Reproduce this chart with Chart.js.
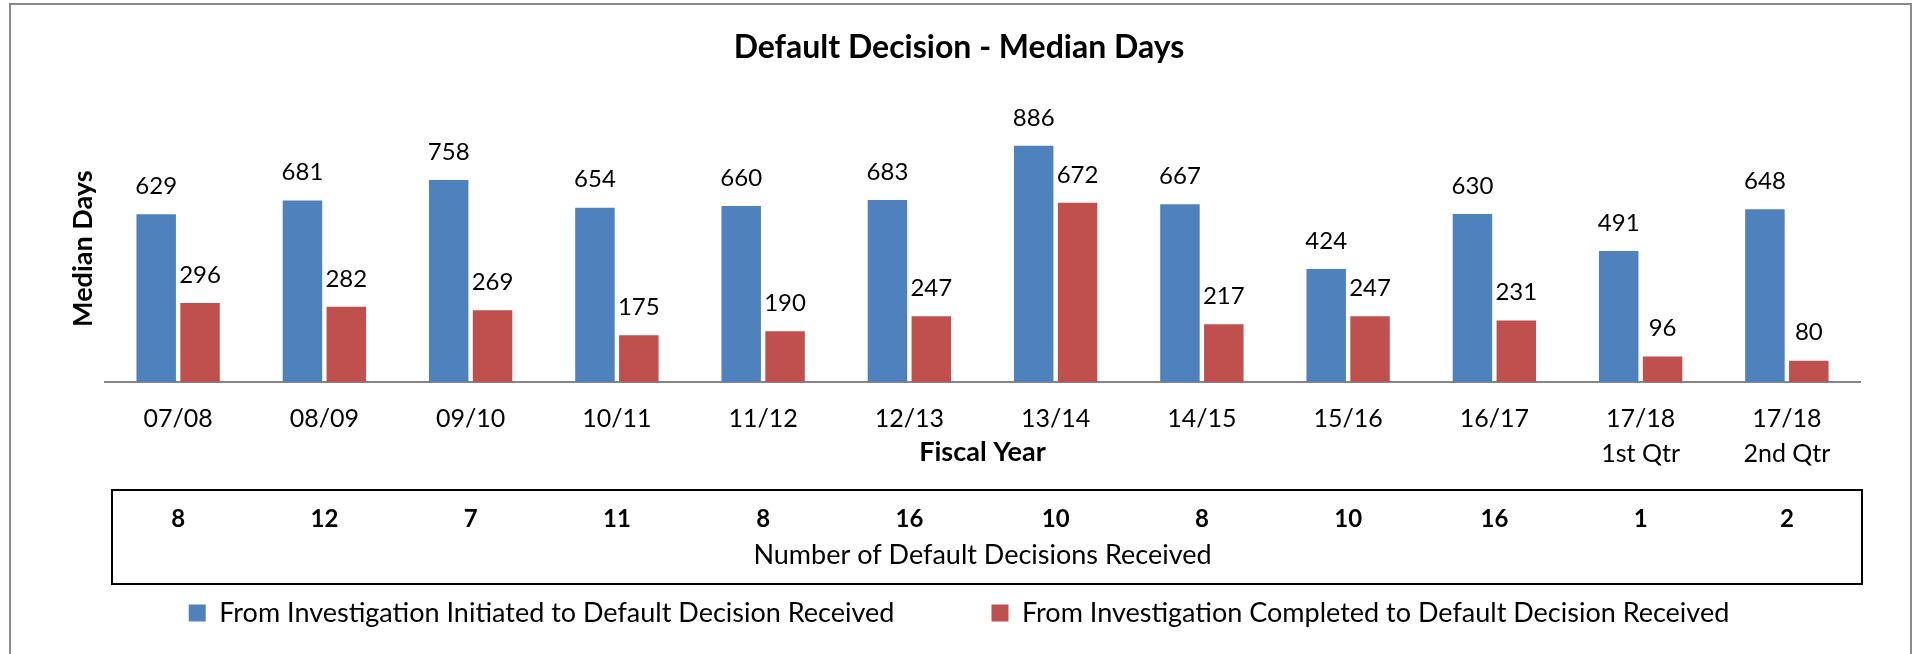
<!DOCTYPE html>
<html>
<head>
<meta charset="utf-8">
<title>Default Decision - Median Days</title>
<script src="https://cdn.jsdelivr.net/npm/chart.js@4.4.1/dist/chart.umd.min.js"></script>
<style>
  html, body { margin: 0; padding: 0; background: #fff; }
  #wrap { width: 1918px; height: 654px; }
</style>
</head>
<body>
<div id="wrap"><canvas id="graficoMediana" width="1918" height="654"></canvas></div>
<script>
// data
const anosFiscais = ['07/08', '08/09', '09/10', '10/11', '11/12', '12/13', '13/14', '14/15', '15/16', '16/17', ['17/18', '1st Qtr'], ['17/18', '2nd Qtr']];
const diasIniciada = [629, 681, 758, 654, 660, 683, 886, 667, 424, 630, 491, 648];
const diasConcluida = [296, 282, 269, 175, 190, 247, 672, 217, 247, 231, 96, 80];
const decisoesRecebidas = ['8', '12', '7', '11', '8', '16', '10', '8', '10', '16', '1', '2'];

const fonte = 'Lato, "Open Sans", sans-serif';

// value labels above each bar
const rotulosBarras = {
    id: 'rotulosBarras',
    afterDatasetsDraw(chart) {
        const ctx = chart.ctx;
        ctx.save();
        ctx.font = '24px ' + fonte;
        ctx.fillStyle = '#000';
        ctx.textAlign = 'center';
        ctx.textBaseline = 'middle';
        chart.data.datasets.forEach((ds, i) => {
            chart.getDatasetMeta(i).data.forEach((bar, j) => {
                ctx.fillText(ds.data[j], bar.x, bar.y - 28);
            });
        });
        ctx.restore();
    }
};

// outer frame and the box round the decisions row
const molduras = {
    id: 'molduras',
    afterDraw(chart) {
        const ctx = chart.ctx;
        const x2 = chart.scales.x2;
        ctx.save();
        ctx.lineWidth = 2;
        ctx.strokeStyle = '#8a8a8a';
        ctx.strokeRect(10, 4, 1901, 720);
        ctx.strokeStyle = '#000';
        ctx.strokeRect(x2.left + 7, x2.top, x2.right - x2.left - 5, x2.bottom - x2.top);
        ctx.restore();
    }
};

const ctxMediana = document.getElementById('graficoMediana').getContext('2d');
const graficoMediana = new Chart(ctxMediana, {
    type: 'bar',
    data: {
        labels: anosFiscais,
        datasets: [{
            label: 'From Investigation Initiated to Default Decision Received',
            data: diasIniciada,
            backgroundColor: '#4F81BD',
            categoryPercentage: 0.6,
            barPercentage: 0.9
        }, {
            label: 'From Investigation Completed to Default Decision Received',
            data: diasConcluida,
            backgroundColor: '#C0504D',
            categoryPercentage: 0.6,
            barPercentage: 0.9
        }]
    },
    options: {
        responsive: false,
        animation: false,
        layout: {
            padding: { top: 0, left: 58, right: 58, bottom: 17.5 }
        },
        scales: {
            x: {
                grid: { display: false, drawTicks: false },
                border: { color: '#868686', width: 2 },
                ticks: {
                    color: '#000',
                    padding: 19,
                    maxRotation: 0,
                    autoSkip: false,
                    font: { family: fonte, size: 25, lineHeight: 1.4 }
                },
                title: {
                    display: true,
                    text: 'Fiscal Year',
                    color: '#000',
                    font: { family: fonte, size: 27, weight: 'bold' },
                    padding: { top: 0, bottom: 22 }
                },
                afterFit(scale) { scale.height = 108; }
            },
            x2: {
                type: 'category',
                labels: decisoesRecebidas,
                position: 'bottom',
                weight: 1,
                offset: true,
                grid: { display: false, drawTicks: false },
                border: { display: false },
                ticks: {
                    color: '#000',
                    padding: 15,
                    autoSkip: false,
                    font: { family: fonte, size: 24, weight: 'bold' }
                },
                title: {
                    display: true,
                    text: 'Number of Default Decisions Received',
                    color: '#000',
                    font: { family: fonte, size: 27 },
                    padding: { top: 0, bottom: 13 }
                },
                afterFit(scale) { scale.height = 94; }
            },
            y: {
                min: 0,
                max: 1000,
                grid: { display: false, drawTicks: false },
                border: { display: false },
                ticks: { display: false },
                title: {
                    display: true,
                    text: 'Median Days',
                    color: '#000',
                    font: { family: fonte, size: 27, weight: 'bold' },
                    padding: { top: 9, bottom: 0 }
                },
                afterFit(scale) { scale.width = 47; }
            }
        },
        plugins: {
            title: {
                display: true,
                text: 'Default Decision - Median Days',
                color: '#000',
                font: { family: fonte, size: 32, weight: 'bold' },
                padding: { top: 28, bottom: 49 }
            },
            legend: {
                position: 'bottom',
                labels: {
                    color: '#000',
                    boxWidth: 17,
                    boxHeight: 17,
                    padding: 15.5,
                    font: { family: fonte, size: 27 },
                    generateLabels(chart) {
                        const itens = Chart.defaults.plugins.legend.labels.generateLabels(chart);
                        itens[0].text = itens[0].text + '\u2003\u2003\u2002    ';
                        return itens;
                    }
                }
            },
            tooltip: { enabled: false }
        }
    },
    plugins: [rotulosBarras, molduras]
});
</script>
</body>
</html>
